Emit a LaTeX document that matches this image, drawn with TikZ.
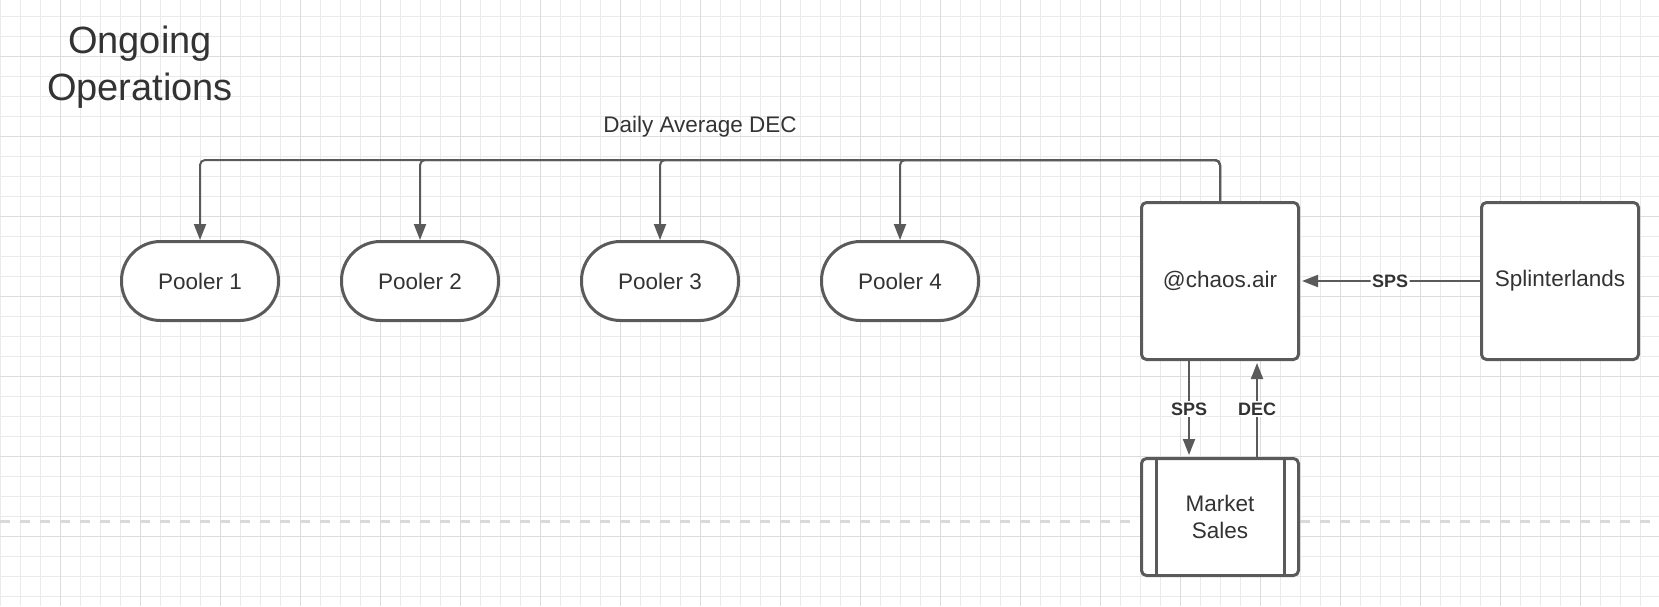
\documentclass[tikz,border=0pt]{standalone}
\usepackage{fontspec}
\setmainfont{Liberation Sans}
\usetikzlibrary{arrows.meta}
\definecolor{linha}{HTML}{5A5A5A}
\definecolor{texto}{HTML}{333333}
\definecolor{gradefina}{HTML}{EAEAEA}
\definecolor{gradeforte}{HTML}{DCDCDC}
\definecolor{tracejado}{HTML}{D9D9D9}

\begin{document}
\begin{tikzpicture}[x=1pt,y=-1pt,
    caixa/.style={draw=linha,line width=3pt,fill=white,rounded corners=5pt,text=texto,
      font=\fontsize{22.5}{27}\selectfont,align=center,minimum width=157pt,inner sep=0pt},
    pooler/.style={caixa,rounded corners=39pt,minimum height=79pt},
    liga/.style={draw=linha,line width=2pt,rounded corners=5pt,-{Triangle[width=12pt,length=16pt]}},
    rotulo/.style={fill=white,text=texto,font=\fontsize{18}{18}\selectfont\bfseries,inner sep=1.5pt}]
        \useasboundingbox (0,0) rectangle (1659,606);

        % Grade
        \foreach \x in {0,20,...,1659}
            \draw[gradefina,line width=1pt] (\x,0) -- (\x,606);
        \foreach \y in {16,36,...,606}
            \draw[gradefina,line width=1pt] (0,\y) -- (1659,\y);
        \foreach \x in {60,140,...,1659}
            \draw[gradeforte,line width=1pt] (\x,0) -- (\x,606);
        \foreach \y in {56,136,...,606}
            \draw[gradeforte,line width=1pt] (0,\y) -- (1659,\y);
        \draw[tracejado,line width=3pt,dash pattern=on 10pt off 10pt] (0,521) -- (1659,521);

        % Textos
        \node[text=texto,font=\fontsize{38}{47}\selectfont,align=center] (titulo) at (140,67) {Ongoing\\Operations};
        \node[text=texto,font=\fontsize{22.5}{27}\selectfont] (diaria) at (700,127) {Daily Average DEC};

        % Nós
        \node[pooler] (p1) at (200,281) {Pooler 1};
        \node[pooler] (p2) at (420,281) {Pooler 2};
        \node[pooler] (p3) at (660,281) {Pooler 3};
        \node[pooler] (p4) at (900,281) {Pooler 4};
        \node[caixa,minimum height=157pt] (chaos) at (1220,281) {@chaos.air};
        \node[caixa,minimum height=157pt] (splint) at (1560,281) {Splinterlands};
        \node[caixa,minimum height=117pt] (market) at (1220,517) {Market\\Sales};
        \draw[linha,line width=3pt] ([xshift=16pt]market.north west) -- ([xshift=16pt]market.south west);
        \draw[linha,line width=3pt] ([xshift=-16pt]market.north east) -- ([xshift=-16pt]market.south east);

        % Conexões
        \coordinate (barra) at (0,160);
        \foreach \p in {p1,p2,p3,p4}
            \draw[liga] (chaos.north) -- (chaos.north |- barra) -| (\p.north);
        \draw[liga,shorten >=2pt] (splint.west) -- (chaos.east) node[rotulo,midway] {SPS};
        \draw[liga,shorten >=2pt] ([xshift=-31pt]chaos.south) -- ([xshift=-31pt]market.north) node[rotulo,midway] {SPS};
        \draw[liga,shorten >=2pt] ([xshift=37pt]market.north) -- ([xshift=37pt]chaos.south) node[rotulo,midway] {DEC};
    \end{tikzpicture}
\end{document}
